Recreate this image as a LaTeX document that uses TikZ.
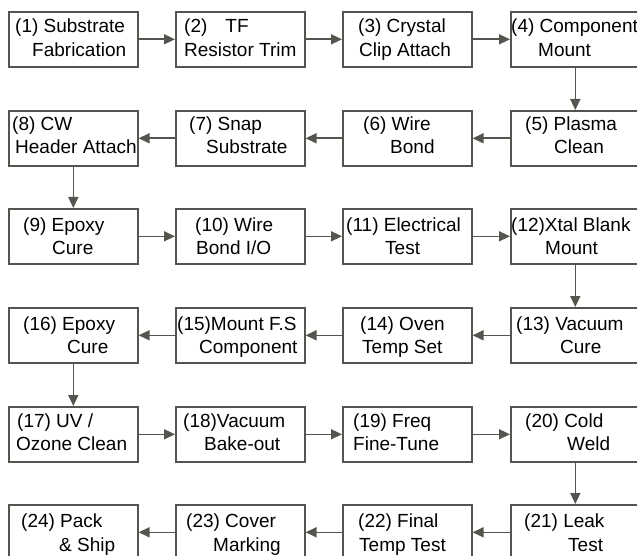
\documentclass[tikz,border=0pt]{standalone}
\usepackage{fontspec}
\setmainfont{Liberation Sans}
\usetikzlibrary{arrows.meta}
\definecolor{ln}{HTML}{55554F}
\tikzset{
  stepbox/.style={draw=ln, line width=1.6pt, minimum width=129pt, minimum height=55pt, inner sep=0pt, anchor=north west},
  txt/.style={anchor=base west, inner sep=0pt, font=\fontsize{19}{24}\selectfont, text=black},
  flow/.style={draw=ln, line width=1.6pt, -{Triangle[length=11pt,width=10pt]}},
}
\begin{document}
\begin{tikzpicture}[x=1pt,y=-1pt]
\useasboundingbox (0,0) rectangle (637,556);
% boxes
\node[stepbox] (b1) at (8,11) {};
\node[stepbox] (b2) at (175,11) {};
\node[stepbox] (b3) at (342,11) {};
\node[stepbox] (b4) at (510,11) {};
\node[stepbox] (b8) at (8,110) {};
\node[stepbox] (b7) at (175,110) {};
\node[stepbox] (b6) at (342,110) {};
\node[stepbox] (b5) at (510,110) {};
\node[stepbox] (b9) at (8,208) {};
\node[stepbox] (b10) at (175,208) {};
\node[stepbox] (b11) at (342,208) {};
\node[stepbox] (b12) at (510,208) {};
\node[stepbox] (b16) at (8,307) {};
\node[stepbox] (b15) at (175,307) {};
\node[stepbox] (b14) at (342,307) {};
\node[stepbox] (b13) at (510,307) {};
\node[stepbox] (b17) at (8,406) {};
\node[stepbox] (b18) at (175,406) {};
\node[stepbox] (b19) at (342,406) {};
\node[stepbox] (b20) at (510,406) {};
\node[stepbox] (b24) at (8,504) {};
\node[stepbox] (b23) at (175,504) {};
\node[stepbox] (b22) at (342,504) {};
\node[stepbox] (b21) at (510,504) {};
% texts row 1
\node[txt] (t1a) at (15,33) {(1) Substrate};
\node[txt] (t1b) at (32,57) {Fabrication};
\node[txt] (t2a) at (184,33) {(2)\hspace{18pt}TF};
\node[txt] (t2b) at (184,57) {Resistor Trim};
\node[txt] (t3a) at (358,33) {(3) Crystal};
\node[txt] (t3b) at (359,57) {Clip Attach};
\node[txt] (t4a) at (511,33) {(4) Component};
\node[txt] (t4b) at (538,57) {Mount};
% row 2
\node[txt] (t8a) at (12,131) {(8) CW};
\node[txt] (t8b) at (15,154) {Header Attach};
\node[txt] (t7a) at (189,131) {(7) Snap};
\node[txt] (t7b) at (206,154) {Substrate};
\node[txt] (t6a) at (363,131) {(6) Wire};
\node[txt] (t6b) at (390,154) {Bond};
\node[txt] (t5a) at (525,131) {(5) Plasma};
\node[txt] (t5b) at (554,154) {Clean};
% row 3
\node[txt] (t9a) at (23,231) {(9) Epoxy};
\node[txt] (t9b) at (52,254) {Cure};
\node[txt] (t10a) at (195,231) {(10) Wire};
\node[txt] (t10b) at (196,254) {Bond I/O};
\node[txt] (t11a) at (346,231) {(11) Electrical};
\node[txt] (t11b) at (385,254) {Test};
\node[txt] (t12a) at (511,231) {(12)Xtal Blank};
\node[txt] (t12b) at (545,254) {Mount};
% row 4
\node[txt] (t16a) at (23,330) {(16) Epoxy};
\node[txt] (t16b) at (67,353) {Cure};
\node[txt] (t15a) at (177,330) {(15)Mount F.S};
\node[txt] (t15b) at (199,353) {Component};
\node[txt] (t14a) at (360,330) {(14) Oven};
\node[txt] (t14b) at (362,353) {Temp Set};
\node[txt] (t13a) at (516,330) {(13) Vacuum};
\node[txt] (t13b) at (560,353) {Cure};
% row 5
\node[txt] (t17a) at (17,427) {(17) UV /};
\node[txt] (t17b) at (16,450) {Ozone Clean};
\node[txt] (t18a) at (183,427) {(18)Vacuum};
\node[txt] (t18b) at (204,450) {Bake-out};
\node[txt] (t19a) at (353,427) {(19) Freq};
\node[txt] (t19b) at (353,450) {Fine-Tune};
\node[txt] (t20a) at (525,427) {(20) Cold};
\node[txt] (t20b) at (567,450) {Weld};
% row 6
\node[txt] (t24a) at (21,527) {(24) Pack};
\node[txt] (t24b) at (59,551) {\& Ship};
\node[txt] (t23a) at (186,527) {(23) Cover};
\node[txt] (t23b) at (213,551) {Marking};
\node[txt] (t22a) at (358,527) {(22) Final};
\node[txt] (t22b) at (359,551) {Temp Test};
\node[txt] (t21a) at (524,527) {(21) Leak};
\node[txt] (t21b) at (568,551) {Test};
% connectors
\draw[flow] (b1) -- (b2);
\draw[flow] (b2) -- (b3);
\draw[flow] (b3) -- (b4);
\draw[flow] (b4) -- (b5);
\draw[flow] (b5) -- (b6);
\draw[flow] (b6) -- (b7);
\draw[flow] (b7) -- (b8);
\draw[flow] (b8) -- (b9);
\draw[flow] (b9) -- (b10);
\draw[flow] (b10) -- (b11);
\draw[flow] (b11) -- (b12);
\draw[flow] (b12) -- (b13);
\draw[flow] (b13) -- (b14);
\draw[flow] (b14) -- (b15);
\draw[flow] (b15) -- (b16);
\draw[flow] (b16) -- (b17);
\draw[flow] (b17) -- (b18);
\draw[flow] (b18) -- (b19);
\draw[flow] (b19) -- (b20);
\draw[flow] (b20) -- (b21);
\draw[flow] (b21) -- (b22);
\draw[flow] (b22) -- (b23);
\draw[flow] (b23) -- (b24);
\end{tikzpicture}
\end{document}
